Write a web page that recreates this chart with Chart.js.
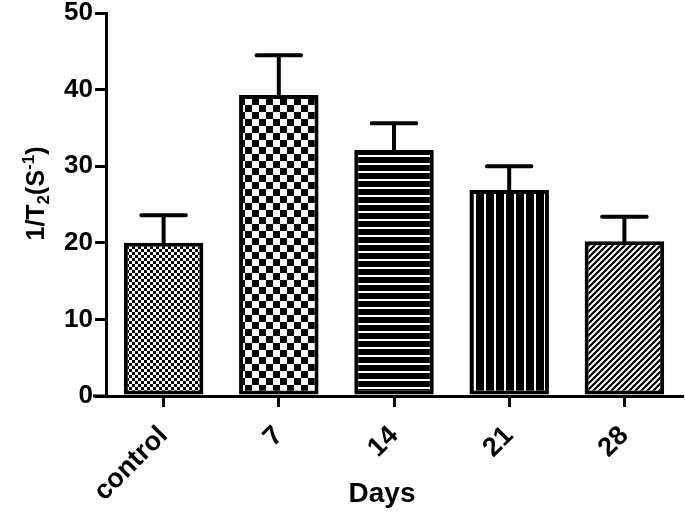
<!DOCTYPE html>
<html><head><meta charset="utf-8">
<script src="https://cdn.jsdelivr.net/npm/chart.js@4/dist/chart.umd.min.js"></script>
<style>html,body{margin:0;padding:0;background:#fff;}#wrap{width:685px;height:513px;}</style>
</head><body><div id="wrap"><canvas id="c" width="685" height="513"></canvas></div>
<script>
const categories = ["control", "7", "14", "21", "28"];
const means = [20.0, 39.3, 32.1, 26.9, 20.2];
const errors = [3.6, 5.2, 3.5, 3.1, 3.2];
const yTicks = [0, 10, 20, 30, 40, 50];
const patternKinds = ["fineCheck", "coarseCheck", "hStripes", "vStripes", "diagonal"];
const xTitle = "Days";
const yTitleParts = [["1/T", "n"], ["2", "sub"], ["(S", "n"], ["-1", "sup"], [")", "n"]];

function makePattern(kind) {
  const c = document.createElement('canvas');
  const g = c.getContext('2d');
  if (kind === 'fineCheck') {
    c.width = c.height = 6; g.fillStyle = '#fff'; g.fillRect(0,0,6,6);
    g.fillStyle = '#000'; g.fillRect(0,0,3,3); g.fillRect(3,3,3,3);
  } else if (kind === 'coarseCheck') {
    c.width = c.height = 14; g.fillStyle = '#fff'; g.fillRect(0,0,14,14);
    g.fillStyle = '#000'; g.fillRect(0,0,7,7); g.fillRect(7,7,7,7);
  } else if (kind === 'hStripes') {
    c.width = 8; c.height = 8; g.fillStyle = '#000'; g.fillRect(0,0,8,8);
    g.fillStyle = '#fff'; g.fillRect(0,3,8,2);
  } else if (kind === 'vStripes') {
    c.width = 10; c.height = 10; g.fillStyle = '#000'; g.fillRect(0,0,10,10);
    g.fillStyle = '#fff'; g.fillRect(4,0,2,10);
  } else {
    c.width = c.height = 6; g.fillStyle = '#fff'; g.fillRect(0,0,6,6);
    g.strokeStyle = '#000'; g.lineWidth = 2.2;
    g.beginPath();
    g.moveTo(-1,7); g.lineTo(7,-1);
    g.moveTo(-4,4); g.lineTo(4,-4);
    g.moveTo(2,10); g.lineTo(10,2);
    g.stroke();
  }
  return document.getElementById('c').getContext('2d').createPattern(c, 'repeat');
}

const FONT = "'Liberation Sans', Arial, sans-serif";

const errorBars = {
  id: 'errorBars',
  afterDatasetsDraw(chart) {
    const ctx = chart.ctx;
    const meta = chart.getDatasetMeta(0);
    const y = chart.scales.y;
    ctx.save();
    ctx.strokeStyle = '#000';
    ctx.lineWidth = 4;
    ctx.lineCap = 'round';
    meta.data.forEach((bar, i) => {
      const top = y.getPixelForValue(means[i] + errors[i]);
      const half = bar.width * 0.28;
      ctx.beginPath();
      ctx.moveTo(bar.x, bar.y);
      ctx.lineTo(bar.x, top);
      ctx.moveTo(bar.x - half, top);
      ctx.lineTo(bar.x + half, top);
      ctx.stroke();
    });
    ctx.restore();
  }
};

const titles = {
  id: 'titles',
  afterDraw(chart) {
    const ctx = chart.ctx;
    const area = chart.chartArea;
    ctx.save();
    ctx.fillStyle = '#000';
    ctx.strokeStyle = '#000';
    ctx.lineWidth = 3;
    ctx.beginPath();
    ctx.moveTo(area.left - 13, area.bottom);
    ctx.lineTo(area.left, area.bottom);
    ctx.stroke();
    ctx.font = "bold 28px " + FONT;
    ctx.textAlign = 'center';
    ctx.textBaseline = 'alphabetic';
    ctx.fillText(xTitle, (area.left + area.right) / 2 - 12, chart.height - 11);
    const main = 25, small = 17;
    const fontFor = t => "bold " + (t === 'n' ? main : small) + "px " + FONT;
    let total = 0;
    yTitleParts.forEach(([s, t]) => { ctx.font = fontFor(t); total += ctx.measureText(s).width; });
    ctx.translate(44, (area.top + area.bottom) / 2 - 11);
    ctx.rotate(-Math.PI / 2);
    ctx.textAlign = 'left';
    let x = -total / 2;
    yTitleParts.forEach(([s, t]) => {
      ctx.font = fontFor(t);
      const dy = t === 'sub' ? 5 : (t === 'sup' ? -10 : 0);
      ctx.fillText(s, x, dy);
      x += ctx.measureText(s).width;
    });
    ctx.restore();
  }
};

new Chart(document.getElementById('c'), {
  type: 'bar',
  data: {
    labels: categories,
    datasets: [{
      data: means,
      backgroundColor: patternKinds.map(makePattern),
      borderColor: '#000',
      borderWidth: 4,
      borderSkipped: false,
      barPercentage: 0.69,
      categoryPercentage: 1.0
    }]
  },
  options: {
    responsive: false,
    animation: false,
    devicePixelRatio: 1,
    layout: { padding: { top: 13, right: 3, left: 0, bottom: 0 } },
    plugins: { legend: { display: false }, tooltip: { enabled: false } },
    scales: {
      y: {
        min: 0, max: 50,
        afterBuildTicks(scale) { scale.ticks = yTicks.map(v => ({ value: v })); },
        afterFit(scale) { scale.width = 106; scale.paddingTop = 0; scale.paddingBottom = 0; },
        border: { display: true, color: '#000', width: 3 },
        grid: { display: true, drawOnChartArea: false, drawTicks: true, tickLength: 11, color: '#000', lineWidth: 3 },
        ticks: { color: '#000', font: { family: FONT, size: 26, weight: 'bold', lineHeight: 0.8 }, padding: 2 }
      },
      x: {
        afterFit(scale) { scale.height = 117; },
        border: { display: true, color: '#000', width: 3 },
        grid: { display: true, offset: false, drawOnChartArea: false, drawTicks: true, tickLength: 11, color: '#000', lineWidth: 3 },
        ticks: { color: '#000', minRotation: 45, maxRotation: 45, font: { family: FONT, size: 27, weight: 'bold' }, padding: 13 }
      }
    }
  },
  plugins: [errorBars, titles]
});
</script>
</body></html>
